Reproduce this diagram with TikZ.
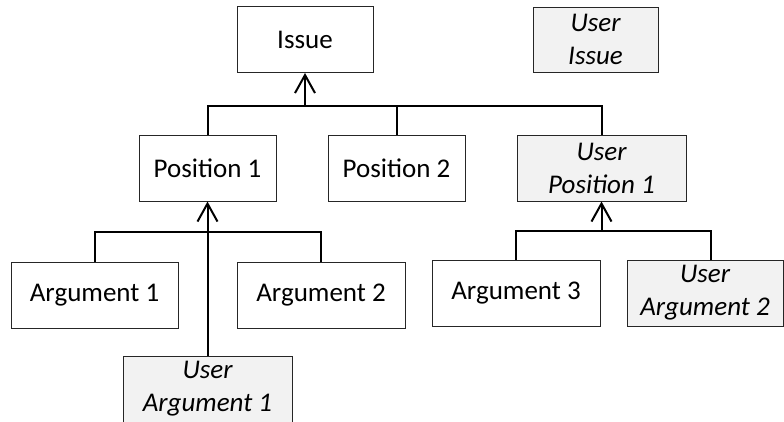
\documentclass[tikz,border=0pt]{standalone}
\usepackage{fontspec}
\setmainfont{Carlito}
\usetikzlibrary{arrows.meta}
\definecolor{userfill}{HTML}{F2F2F2}
\begin{document}
\begin{tikzpicture}[x=1pt,y=-1pt,
  box/.style={draw=black!85, line width=1pt, fill=white, minimum height=66pt,
    inner sep=0pt, align=center, font=\fontsize{27}{33}\selectfont},
  userbox/.style={box, fill=userfill, font=\fontsize{27}{33}\selectfont\itshape},
  link/.style={line width=2pt, black},
  up/.style={link, -{Straight Barb[length=18pt,width=20pt]}}]
\useasboundingbox (0,0) rectangle (784,421);

% issue level
\node[box, minimum width=136pt] (issue) at (305,39.5) {Issue};
\node[userbox, minimum width=125pt, minimum height=65pt] (uissue) at (595.5,39.5) {User\\Issue};

% positions
\node[box, minimum width=137pt] (p1) at (207.5,168) {Position 1};
\node[box, minimum width=137pt] (p2) at (396.5,168) {Position 2};
\node[userbox, minimum width=169pt] (up1) at (601.5,168) {User\\Position 1};

% arguments
\node[box, minimum width=167pt] (a1) at (94.5,295) {Argument 1};
\node[box, minimum width=168pt] (a2) at (321,295) {Argument 2};
\node[userbox, minimum width=169pt] (ua1) at (207.5,389) {User\\Argument 1};
\node[box, minimum width=168pt] (a3) at (516,293) {Argument 3};
\node[userbox, minimum width=156pt] (ua2) at (705,293) {User\\Argument 2};

% positions respond to the issue
\coordinate (j0) at (305,106);
\draw[up] (j0) -- (issue.south);
\draw[link] (p1.north) |- (up1.north |- j0) -- (up1.north);
\draw[link] (p2.north) -- (p2.north |- j0);

% arguments on position 1
\coordinate (j1) at (207.5,232);
\draw[link] (a1.north) |- (a2.north |- j1) -- (a2.north);
\draw[up] (ua1.north) -- (p1.south);

% arguments on the user position
\coordinate (j2) at (601.5,231);
\draw[link] (a3.north) |- ([xshift=6pt]ua2.north |- j2) -- ([xshift=6pt]ua2.north);
\draw[up] (j2) -- (up1.south);
\end{tikzpicture}
\end{document}
